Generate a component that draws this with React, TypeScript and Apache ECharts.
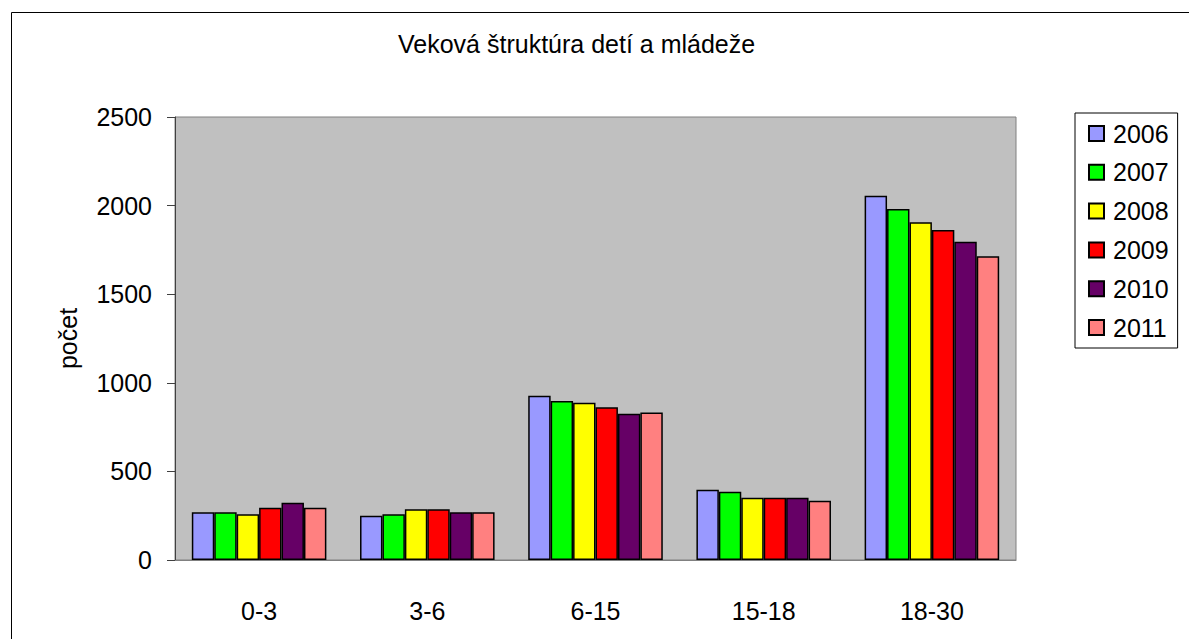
import React, { useEffect, useRef } from "react";
import * as echarts from "echarts";

const categories = ["0-3", "3-6", "6-15", "15-18", "18-30"];
const years = ["2006", "2007", "2008", "2009", "2010", "2011"];
const v2006 = [269, 250, 927, 397, 2056];
const v2007 = [269, 258, 897, 385, 1981];
const v2008 = [258, 286, 888, 352, 1906];
const v2009 = [295, 286, 862, 352, 1862];
const v2010 = [323, 269, 826, 352, 1796];
const v2011 = [295, 269, 833, 335, 1714];
const seriesValues = [v2006, v2007, v2008, v2009, v2010, v2011];
const colors = ["#9999FF", "#00FF00", "#FFFF00", "#FF0000", "#660066", "#FF8080"];
const titleText = "Veková štruktúra detí a mládeže";
const yName = "počet";

const FONT = "'Liberation Sans', Arial, sans-serif";

export default function App() {
  const ref = useRef<HTMLDivElement>(null);
  useEffect(() => {
    if (!ref.current) return;
    const chart = echarts.init(ref.current, null, { renderer: "svg" });
    chart.setOption({
      animation: false,
      backgroundColor: "#ffffff",
      textStyle: { fontFamily: FONT },
      title: {
        text: titleText,
        left: 398,
        top: 31,
        padding: 0,
        textStyle: { fontFamily: FONT, fontSize: 25, fontWeight: "normal", color: "#000" },
      },
      graphic: [
        {
          type: "rect",
          shape: { x: 11.5, y: 12.5, width: 1250, height: 700 },
          style: { fill: "none", stroke: "#000", lineWidth: 1 },
          silent: true,
          z: 100,
        },
      ],
      legend: {
        orient: "vertical",
        left: 1075,
        top: 113,
        padding: [8, 9, 8, 13],
        itemGap: 13.8,
        itemWidth: 15,
        itemHeight: 15,
        icon: "rect",
        borderColor: "#000",
        borderWidth: 1,
        backgroundColor: "#fff",
        textStyle: { fontFamily: FONT, fontSize: 25, color: "#000", lineHeight: 25, padding: [0, 0, 0, 4] },
        data: years,
      },
      grid: {
        left: 175,
        top: 117,
        right: 173,
        bottom: 79,
        show: true,
        backgroundColor: "#C0C0C0",
        borderColor: "#808080",
        borderWidth: 1,
      },
      xAxis: {
        type: "category",
        data: categories,
        axisLine: { show: true, lineStyle: { color: "#808080", width: 1 } },
        axisTick: { show: false },
        axisLabel: { fontFamily: FONT, fontSize: 25, color: "#000", margin: 38, lineHeight: 25 },
      },
      yAxis: {
        type: "value",
        min: 0,
        max: 2500,
        interval: 500,
        name: yName,
        nameLocation: "middle",
        nameRotate: 90,
        nameGap: 95,
        nameTextStyle: { fontFamily: FONT, fontSize: 25, color: "#000" },
        axisLine: { show: true, lineStyle: { color: "#404040", width: 1 } },
        axisTick: { show: true, inside: false, length: 8, lineStyle: { color: "#404040" } },
        splitLine: { show: false },
        axisLabel: {
          fontFamily: FONT,
          fontSize: 25,
          color: "#000",
          margin: 23,
          formatter: (v: number) => String(v),
        },
      },
      series: years.map((y, i) => ({
        name: y,
        type: "bar",
        data: seriesValues[i],
        barGap: "0%",
        barCategoryGap: "20%",
        itemStyle: { color: colors[i], borderColor: "#000", borderWidth: 1.5 },
      })),
    });
    return () => chart.dispose();
  }, []);
  return (
    <div
      ref={ref}
      style={{ position: "fixed", left: 0, top: 0, width: 1189, height: 639 }}
    />
  );
}
